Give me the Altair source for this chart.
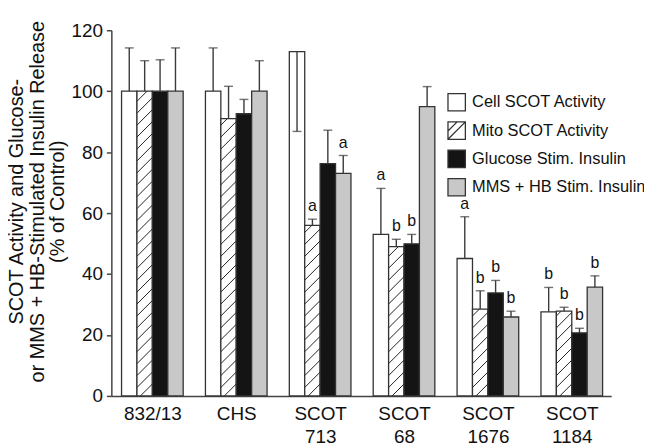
import json
import altair as alt
import pandas as pd

# ---------------- data ----------------
groups = ["832/13", "CHS", "SCOT 713", "SCOT 68", "SCOT 1676", "SCOT 1184"]
series = ["Cell SCOT Activity", "Mito SCOT Activity",
          "Glucose Stim. Insulin", "MMS + HB Stim. Insulin"]

cell = [100, 100, 113.0, 53.0, 45.1, 27.6]
mito = [100, 91.0, 56.0, 49.0, 28.5, 27.8]
glucose = [100, 92.6, 76.2, 49.9, 33.8, 20.7]
mms = [100, 100, 73.0, 94.9, 25.9, 35.7]

# y value at the end of each error bar (cap position)
cell_err = [114.2, 114.2, 86.8, 68.1, 58.8, 35.6]
mito_err = [110.0, 101.6, 58.0, 51.4, 34.5, 29.1]
glucose_err = [110.3, 97.3, 87.2, 53.0, 37.9, 22.2]
mms_err = [114.2, 110.0, 78.9, 101.5, 27.8, 39.4]

cell_sig = ["", "", "", "a", "a", "b"]
mito_sig = ["", "", "a", "b", "b", "b"]
glucose_sig = ["", "", "", "b", "b", "b"]
mms_sig = ["", "", "a", "", "b", "b"]

fills = ["#ffffff", "#ffffff", "#141414", "#c8c8c8"]
shapes = ["M-1,-1H1V1H-1Z",
          "M-1,-1H1V1H-1Z M-1,1L1,-1 M-1,0.05L0.05,-1",
          "M-1,-1H1V1H-1Z",
          "M-1,-1H1V1H-1Z"]

# ---------------- layout constants ----------------
W, H = 503, 368
XMIN, XMAX = -0.489, 5.47
YMAX = 120
BW = 0.1837                      # bar width in group units
PXX = W / (XMAX - XMIN)
PXY = H / YMAX
FONT = "Liberation Sans"
EDGE = "#333333"

values = [cell, mito, glucose, mms]
errs = [cell_err, mito_err, glucose_err, mms_err]
sigs = [cell_sig, mito_sig, glucose_sig, mms_sig]

rows = []
for j, s in enumerate(series):
    for i, g in enumerate(groups):
        left = i - 2 * BW + j * BW
        v = values[j][i]
        e = errs[j][i]
        rows.append(dict(series=s, group=g, x0=left, x1=left + BW,
                         xc=left + BW / 2, value=v, err=e,
                         top=max(v, e), sig=sigs[j][i]))
df = pd.DataFrame(rows)

# hatch lines for the Mito bars (derived from the bar values)
sp = 12 / PXY          # vertical spacing (y units)
rise = BW * PXX / PXY  # 45 degree rise across the bar width (y units)
hatch = []
for i, g in enumerate(groups):
    left = i - 2 * BW + 1 * BW
    v = mito[i]
    k = 1
    while True:
        ys = -rise + k * sp
        if ys > v:
            break
        t_lo = max(0.0, (0 - ys) / rise)
        t_hi = min(1.0, (v - ys) / rise)
        if t_lo < t_hi:
            hatch.append(dict(hx0=left + t_lo * BW, hx1=left + t_hi * BW,
                              hy0=ys + t_lo * rise, hy1=ys + t_hi * rise))
        k += 1
hdf = pd.DataFrame(hatch)

xscale = alt.Scale(domain=[XMIN, XMAX], nice=False, zero=False)
yscale = alt.Scale(domain=[0, YMAX], nice=False)
fill_scale = alt.Scale(domain=series, range=fills)
shape_scale = alt.Scale(domain=series, range=shapes)

label_lines = [g.split(" ") for g in groups]
label_expr = json.dumps(label_lines) + "[round(datum.value)]"

xaxis = alt.Axis(values=list(range(len(groups))), labelExpr=label_expr,
                 ticks=False, grid=False, title=None, labelFontSize=19,
                 labelFont=FONT, labelColor="#111", labelPadding=9,
                 labelLineHeight=23, domainColor="#444", domainWidth=1.5)
yaxis = alt.Axis(values=list(range(0, 121, 20)), grid=False, tickSize=5,
                 tickWidth=1.5, tickColor="#444", domainColor="#444",
                 domainWidth=1.5, labelFontSize=19, labelFont=FONT,
                 labelColor="#111", labelPadding=4,
                 title=["SCOT Activity and Glucose-",
                        "or MMS + HB-Stimulated Insulin Release",
                        "(% of Control)"],
                 titleFontSize=20, titleFont=FONT, titleFontWeight="normal",
                 titleColor="#111", titleLineHeight=21, titleY=172,
                 titlePadding=3)

base = alt.Chart(df)

bars = base.mark_rect(stroke=EDGE, strokeWidth=1.3).encode(
    x=alt.X("x0:Q", scale=xscale, axis=xaxis),
    x2="x1:Q",
    y=alt.Y("value:Q", scale=yscale, axis=yaxis),
    y2=alt.datum(0),
    fill=alt.Fill("series:N", scale=fill_scale, title=None),
)

hatch_lines = alt.Chart(hdf).mark_rule(color="#222", strokeWidth=1).encode(
    x=alt.X("hx0:Q", scale=xscale), x2="hx1:Q",
    y=alt.Y("hy0:Q", scale=yscale), y2="hy1:Q",
)

err_lines = base.mark_rule(color="#3a3a3a", strokeWidth=1.4).encode(
    x=alt.X("xc:Q", scale=xscale),
    y=alt.Y("value:Q", scale=yscale), y2="err:Q",
)

caps = base.mark_tick(orient="horizontal", size=9, thickness=1.4,
                      color="#3a3a3a").encode(
    x=alt.X("xc:Q", scale=xscale),
    y=alt.Y("err:Q", scale=yscale),
)

letters = base.mark_text(fontSize=16, font=FONT, color="#111",
                         baseline="alphabetic", dy=-8).encode(
    x=alt.X("xc:Q", scale=xscale),
    y=alt.Y("top:Q", scale=yscale),
    text="sig:N",
)

legend_pts = base.transform_filter("false").mark_point(
    filled=True, stroke=EDGE, strokeWidth=1.3, opacity=1).encode(
    fill=alt.Fill("series:N", scale=fill_scale, title=None),
    shape=alt.Shape("series:N", scale=shape_scale, title=None),
)

chart = alt.layer(bars, hatch_lines, err_lines, caps, letters, legend_pts).properties(
    width=W, height=H,
    autosize=alt.AutoSizeParams(type="none"),
    padding={"left": 104, "top": 21, "right": 33, "bottom": 48},
).configure_view(stroke=None).configure_legend(
    orient="none", legendX=338, legendY=63, padding=0,
    symbolSize=306, symbolStrokeWidth=1.3, symbolStrokeColor=EDGE,
    labelFontSize=16.5, labelFont=FONT, labelColor="#111",
    labelOffset=6, rowPadding=5.5, labelLimit=300,
)

chart.save("out.html", embed_options={"renderer": "svg", "actions": False})
